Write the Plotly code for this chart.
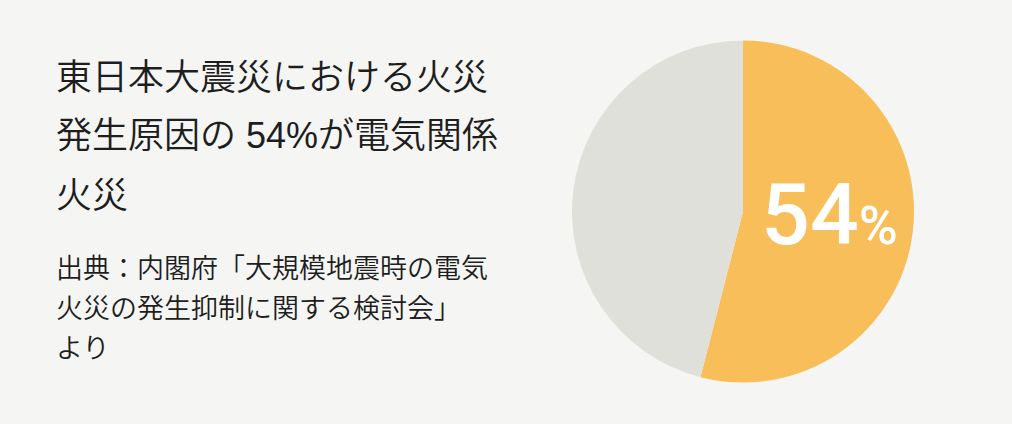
import plotly.graph_objects as go

# 東日本大震災における火災発生原因
labels = ["電気関係", "その他"]
values = [54, 46]
colors = ["#f8be5a", "#e0e0da"]

title_lines = ["東日本大震災における火災", "発生原因の 54%が電気関係", "火災"]
source_lines = ["出典：内閣府「大規模地震時の電気", "火災の発生抑制に関する検討会」", "より"]

BG = "#f5f6f4"
INK = "#1e1e1e"
JP = "Liberation Sans, Noto Sans CJK JP"
W, H = 1012, 424

fig = go.Figure()
fig.add_trace(
    go.Pie(
        labels=labels,
        values=values,
        marker=dict(colors=colors, line=dict(width=0)),
        sort=False,
        direction="clockwise",
        rotation=0,
        textinfo="none",
        hoverinfo="label+percent",
        domain=dict(x=[572 / W, 914 / W], y=[1 - 383 / H, 1 - 40 / H]),
        showlegend=False,
    )
)

# 見出し
for i, line in enumerate(title_lines):
    fig.add_annotation(
        x=54 / W, y=1 - (77 + i * 59) / H,
        xref="paper", yref="paper", xanchor="left", yanchor="middle",
        text=line, showarrow=False,
        font=dict(family=JP, size=36, color=INK, weight=350),
    )

# 出典
for i, line in enumerate(source_lines):
    fig.add_annotation(
        x=54 / W, y=1 - (269 + i * 40) / H,
        xref="paper", yref="paper", xanchor="left", yanchor="middle",
        text=line, showarrow=False,
        font=dict(family=JP, size=27, color=INK, weight=350),
    )

# 円の中の数値
fig.add_annotation(
    x=829 / W, y=1 - 214 / H,
    xref="paper", yref="paper", xanchor="center", yanchor="middle",
    text=f"{values[0]}<span style='font-size:53px'>%</span>",
    showarrow=False,
    font=dict(family="Roboto", size=86, color="#ffffff", weight=500),
)

fig.update_layout(
    width=W, height=H,
    margin=dict(l=0, r=0, t=0, b=0),
    paper_bgcolor=BG,
    plot_bgcolor=BG,
)

fig.write_html(
    "out.html",
    config={"displayModeBar": False},
    post_script="document.body.style.margin='0';",
)
